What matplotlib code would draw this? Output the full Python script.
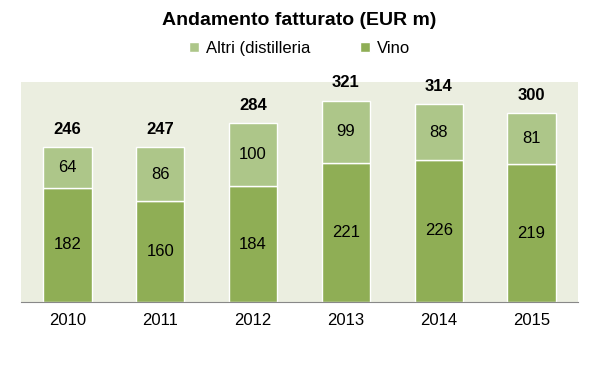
import matplotlib.pyplot as plt
from matplotlib import font_manager

years = ["2010", "2011", "2012", "2013", "2014", "2015"]
vino = [182, 160, 184, 221, 226, 219]
altri = [64, 86, 100, 99, 88, 81]
totals = [246, 247, 284, 321, 314, 300]

VINO_COLOR = "#8fae55"
ALTRI_COLOR = "#adc689"
BG_COLOR = "#ebeee0"

names = {f.name for f in font_manager.fontManager.ttflist}
family = "Liberation Sans Narrow" if "Liberation Sans Narrow" in names else "Liberation Sans"
plt.rcParams["font.family"] = [family, "DejaVu Sans"]

fig = plt.figure(figsize=(5.99, 3.67), dpi=100)
ax = fig.add_axes([0.035, 0.177, 0.93, 0.6])
ax.set_facecolor(BG_COLOR)

x = range(len(years))
b1 = ax.bar(x, vino, width=0.52, color=VINO_COLOR, edgecolor="white", linewidth=1, label="Vino")
b2 = ax.bar(x, altri, width=0.52, bottom=vino, color=ALTRI_COLOR, edgecolor="white", linewidth=1,
            label="Altri (distilleria")

for i in x:
    ax.text(i, vino[i] / 2, str(vino[i]), ha="center", va="center", fontsize=12)
    ax.text(i, vino[i] + altri[i] / 2, str(altri[i]), ha="center", va="center", fontsize=12)
    ax.text(i, totals[i] + 16, str(totals[i]), ha="center", va="bottom", fontsize=12, fontweight="bold")

ax.set_ylim(0, 350)
ax.set_xlim(-0.5, len(years) - 0.5)
ax.set_xticks(list(x), years, fontsize=12)
ax.set_yticks([])
ax.tick_params(axis="x", length=0, pad=8)
for side in ["top", "right", "left"]:
    ax.spines[side].set_visible(False)
ax.spines["bottom"].set_color("#888888")

fig.text(0.5, 0.945, "Andamento fatturato (EUR m)", ha="center", va="center",
         fontsize=14, fontweight="bold")
fig.legend(handles=[b2, b1], loc="center", bbox_to_anchor=(0.5, 0.868), ncol=2, frameon=False,
           fontsize=12, handlelength=0.6, handleheight=0.6, columnspacing=3, handletextpad=0.4)

fig.savefig("out.png", dpi=100)
